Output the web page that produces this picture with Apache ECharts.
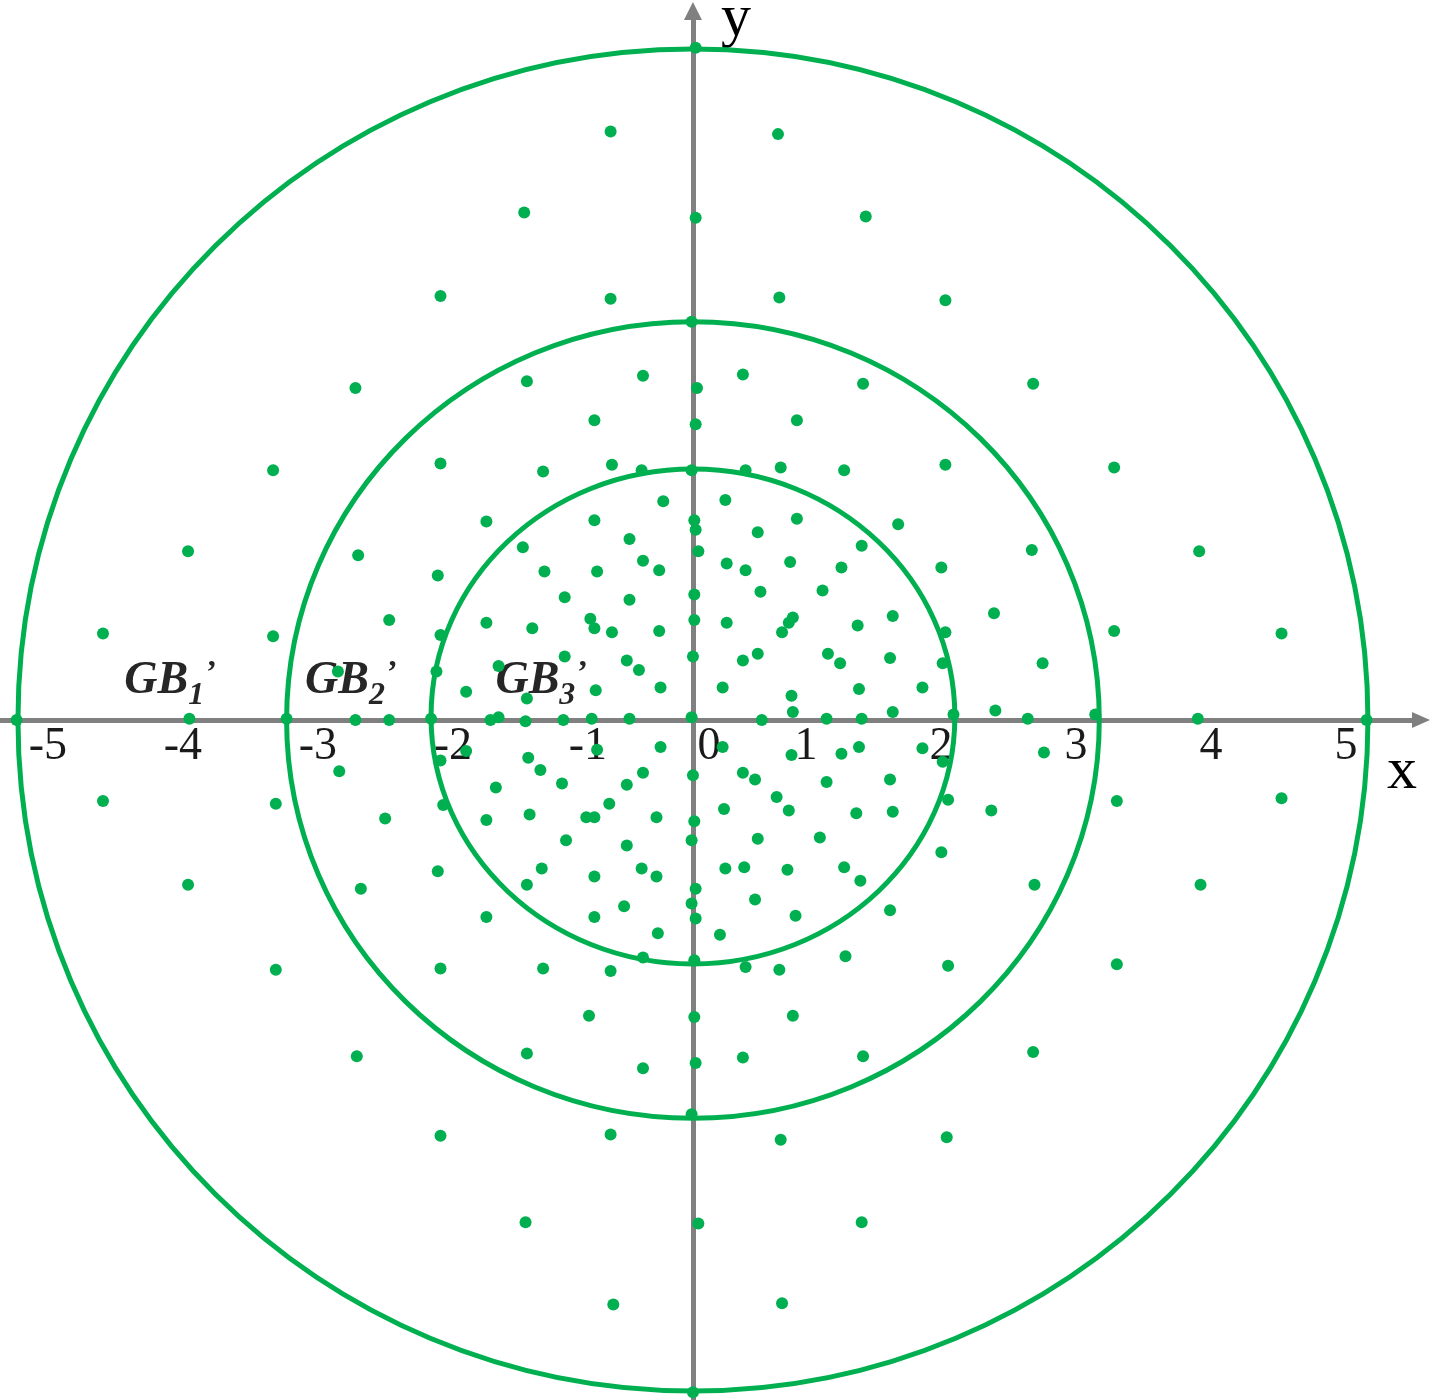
<!DOCTYPE html>
<html>
<head>
<meta charset="utf-8">
<script src="https://cdn.jsdelivr.net/npm/echarts@6.0.0/dist/echarts.min.js"></script>
<style>
  html, body { margin: 0; padding: 0; background: #fff; }
  #ringChart { width: 1433px; height: 1400px; }
</style>
</head>
<body>
<div id="ringChart"></div>
<script>
// x tick labels
const xTickValues = [-5, -4, -3, -2, -1, 0, 1, 2, 3, 4, 5];
const xTickLabels = ["-5", "-4", "-3", "-2", "-1", "0", "1", "2", "3", "4", "5"];

// boundary rings: [cx, cy, rx, ry]
const rings = [
  [0, 0, 5.0, 4.97],
  [0, 0, 3.01, 2.95],
  [0, 0.026, 1.94, 1.833],
];

// zone names and where they are written
const zoneNames = ["1", "2", "3"];
const zoneLabelPos = [
  [-3.87, 0.27],
  [-2.53, 0.27],
  [-1.12, 0.27],
];

// sampling points, GB1' zone (outside the middle ring)
const outerPoints = [
  [-0.61, 4.36], [0.63, 4.34], [-1.25, 3.76], [0.02, 3.72], [1.28, 3.73], [0.02, 4.98],
  [-1.87, 3.14], [-0.61, 3.12], [0.64, 3.13], [1.87, 3.11], [-0.01, 2.95],
  [-2.5, 2.46], [2.52, 2.49], [-3.11, 1.85], [3.12, 1.87], [-3.74, 1.25], [3.75, 1.25],
  [-4.37, 0.64], [-3.11, 0.62], [3.12, 0.66], [4.36, 0.64],
  [-5.01, 0], [-3.73, 0.01], [-3.01, 0.01], [2.98, 0.04], [3.74, 0.01], [4.99, 0],
  [-4.37, -0.6], [-3.09, -0.62], [3.14, -0.6], [4.36, -0.58],
  [-3.74, -1.22], [3.76, -1.22], [-3.09, -1.85], [3.14, -1.81],
  [-2.49, -2.49], [2.52, -2.46], [-1.87, -3.08], [-0.61, -3.07], [0.65, -3.11], [1.88, -3.09], [-0.01, -2.92],
  [-1.24, -3.72], [0.04, -3.73], [1.25, -3.72], [-0.59, -4.33], [0.66, -4.32], [0, -4.98],
];

// GB2' zone
const middlePoints = [
  [-1.23, 2.51], [-0.37, 2.55], [0.37, 2.56], [0.03, 2.46], [1.26, 2.49],
  [-0.73, 2.22], [0.02, 2.19], [0.77, 2.22],
  [-1.87, 1.9], [-1.11, 1.84], [-0.6, 1.89], [-0.38, 1.85], [-0.01, 1.85], [0.39, 1.85], [0.65, 1.87], [1.12, 1.85], [1.87, 1.89],
  [-1.53, 1.47], [-2.48, 1.22], [-1.89, 1.07], [-2.25, 0.74], [-1.53, 0.72], [-1.87, 0.63], [-1.9, 0.36], [-2.63, 0.36], [-1.68, 0.21],
  [-2.5, 0], [-2.25, 0], [-1.94, 0.01],
  [-1.68, -0.23], [-1.87, -0.3], [-2.62, -0.38], [-1.85, -0.63], [-2.28, -0.73], [-1.53, -0.74], [-1.89, -1.12], [-2.46, -1.25], [-1.53, -1.46],
  [2.51, 1.26], [2.23, 0.79], [2.59, 0.42], [2.24, 0.07], [2.48, 0.01], [2.6, -0.24], [2.21, -0.67], [2.53, -1.22],
  [1.52, 1.45], [1.84, 1.13], [1.87, 0.65], [1.85, 0.42], [1.93, 0.04], [1.85, -0.31], [1.89, -0.59], [1.84, -0.98],
  [-0.37, -1.76], [0.01, -1.78], [1.13, -1.75], [-1.11, -1.84], [-0.61, -1.86], [0.39, -1.83], [0.64, -1.85], [1.89, -1.82], [-1.87, -1.84],
  [-0.77, -2.19], [0.01, -2.2], [0.74, -2.19], [-1.23, -2.47], [-0.37, -2.58], [0.02, -2.54], [0.37, -2.5], [1.26, -2.49],
  [1.46, -1.41], [-0.73, -1.46], [0.02, -1.47], [0.76, -1.45], [-0.26, -1.58], [0.2, -1.59],
];

// GB3' zone
const innerPoints = [
  [-0.22, 1.62], [0.24, 1.63], [-0.73, 1.48], [0.01, 1.48], [0.02, 1.41], [0.77, 1.49],
  [-1.26, 1.28], [-0.47, 1.34], [0.48, 1.39], [1.25, 1.29], [0.04, 1.25],
  [-0.37, 1.18], [-0.25, 1.11], [-1.1, 1.1], [-0.71, 1.1], [0.25, 1.16], [0.39, 1.11], [0.72, 1.17], [1.1, 1.13],
  [0.01, 0.93], [0.5, 0.95], [0.96, 0.96], [-0.95, 0.91], [-0.47, 0.89],
  [-1.19, 0.68], [-0.76, 0.75], [-0.73, 0.68], [-0.6, 0.65], [-0.25, 0.66], [0.01, 0.74], [0.25, 0.72], [0.66, 0.65], [0.71, 0.72], [0.74, 0.76], [1.22, 0.7], [1.48, 0.77],
  [-0.95, 0.47], [-0.49, 0.44], [-0.4, 0.37], [-1.44, 0.4], [0, 0.47], [0.37, 0.44], [0.48, 0.49], [1.0, 0.49], [1.09, 0.42], [1.46, 0.46],
  [-0.72, 0.22], [-0.24, 0.24], [-1.23, 0.16], [0.22, 0.24], [0.73, 0.18], [1.23, 0.23], [1.7, 0.24],
  [-1.5, 0], [-1.44, 0.02], [-1.24, -0.01], [-0.96, 0], [-0.75, 0.01], [-0.47, 0.01], [-0.01, 0.02], [0.51, 0], [0.74, 0.06], [0.99, 0.01], [1.25, 0.01], [1.48, 0.06],
  [-0.71, -0.22], [-0.24, -0.2], [0.22, -0.2], [0.73, -0.26], [1.1, -0.25], [1.23, -0.2], [1.7, -0.21],
  [-1.22, -0.28], [-1.13, -0.37], [-0.37, -0.39], [0, -0.41], [0.37, -0.39], [0.46, -0.44],
  [-1.46, -0.5], [-0.97, -0.47], [-0.49, -0.48], [0.99, -0.46], [1.46, -0.44],
  [-0.62, -0.62], [0.62, -0.57], [0.71, -0.67],
  [-1.21, -0.7], [-0.79, -0.72], [-0.73, -0.72], [-0.27, -0.72], [0.01, -0.75], [0.23, -0.66], [1.21, -0.69], [1.48, -0.68],
  [-0.94, -0.89], [-0.49, -0.93], [-0.01, -0.89], [0.48, -0.88], [0.94, -0.87],
  [-1.12, -1.1], [-0.73, -1.16], [-0.38, -1.1], [-0.27, -1.16], [0.24, -1.1], [0.38, -1.09], [0.7, -1.11], [1.12, -1.09], [1.24, -1.19],
  [-1.23, -1.22], [0.02, -1.25], [-0.01, -1.36], [0.46, -1.33], [-0.51, -1.38],
];

const green = "#00B050";
const axisGray = "#808080";
const serif = "Liberation Serif";

const yMin = -5.037;
const yMax = 5.252;
const gridTop = 11;
const gridHeight = 1400 - gridTop;
// pull the x axis up from the grid bottom to y = 0
const xAxisOffset = -gridHeight * (0 - yMin) / (yMax - yMin);

let myChart = echarts.init(document.getElementById("ringChart"));

let option = {
  backgroundColor: "#fff",
  animation: false,
  grid: {
    left: 0,
    right: 12,
    top: gridTop,
    bottom: 0,
    containLabel: false,
    outerBoundsMode: "none",
  },
  xAxis: {
    type: "value",
    min: -5.133,
    max: 5.393,
    position: "bottom",
    offset: xAxisOffset,
    splitLine: { show: false },
    axisTick: { show: false },
    axisLine: {
      onZero: false,
      symbol: ["none", "triangle"],
      symbolSize: [16, 18],
      lineStyle: { color: axisGray, width: 5 },
    },
    axisLabel: {
      customValues: xTickValues,
      margin: 4,
      fontFamily: serif,
      fontSize: 46,
      color: "#1a1a1a",
      formatter: function (v) {
        const s = xTickLabels[xTickValues.indexOf(v)];
        if (v < 0) return "{neg|" + s + "}";
        if (v === 0) return "{zero|" + s + "}";
        return "{pos|" + s + "}";
      },
      rich: {
        neg: { fontFamily: serif, fontSize: 46, color: "#1a1a1a", padding: [0, 0, 0, 60] },
        zero: { fontFamily: serif, fontSize: 46, color: "#1a1a1a", padding: [0, 0, 0, 32] },
        pos: { fontFamily: serif, fontSize: 46, color: "#1a1a1a", padding: [0, 44, 0, 0] },
      },
    },
    name: "x",
    nameLocation: "end",
    nameGap: -4,
    nameMoveOverlap: false,
    nameTextStyle: {
      fontFamily: serif,
      fontSize: 60,
      color: "#000",
      align: "right",
      verticalAlign: "top",
      padding: [22, 0, 0, 0],
    },
  },
  yAxis: {
    type: "value",
    min: yMin,
    max: yMax,
    splitLine: { show: false },
    axisTick: { show: false },
    axisLabel: { show: false },
    axisLine: {
      onZero: true,
      symbol: ["none", "triangle"],
      symbolSize: [18, 18],
      lineStyle: { color: axisGray, width: 5 },
    },
    name: "y",
    nameLocation: "end",
    nameGap: -8,
    nameMoveOverlap: false,
    nameTextStyle: {
      fontFamily: serif,
      fontSize: 60,
      color: "#000",
      align: "left",
      verticalAlign: "middle",
      padding: [0, 0, 0, 28],
    },
  },
  series: [
    {
      // the three boundary rings
      type: "custom",
      data: rings,
      z: 2,
      renderItem: function (params, api) {
        const c = api.coord([api.value(0), api.value(1)]);
        const s = api.size([api.value(2), api.value(3)]);
        return {
          type: "ellipse",
          shape: { cx: c[0], cy: c[1], rx: s[0], ry: s[1] },
          style: { fill: "none", stroke: green, lineWidth: 5 },
        };
      },
    },
    {
      // zone names GB1' GB2' GB3'
      type: "scatter",
      symbolSize: 0,
      z: 2,
      itemStyle: { opacity: 1 },
      data: zoneLabelPos.map((p, i) => ({ value: p, name: zoneNames[i] })),
      label: {
        show: true,
        position: "inside",
        color: "#262626",
        textBorderWidth: 0,
        formatter: function (p) {
          return "{gb|GB}{sub|" + p.name + "}{sup|\u2019}";
        },
        rich: {
          gb: {
            fontFamily: serif, fontWeight: "bold", fontStyle: "italic",
            fontSize: 46, color: "#262626", verticalAlign: "top", padding: [3, 0, 0, 0],
          },
          sub: {
            fontFamily: serif, fontWeight: "bold", fontStyle: "italic",
            fontSize: 32, color: "#262626", verticalAlign: "top", padding: [25, 0, 0, 0],
          },
          sup: {
            fontFamily: serif, fontWeight: "bold",
            fontSize: 32, color: "#262626", verticalAlign: "top", padding: [3, 0, 0, 2],
          },
        },
      },
    },
    {
      type: "scatter",
      name: "GB1'",
      data: outerPoints,
      symbolSize: 12,
      z: 3,
      itemStyle: { color: green, opacity: 1 },
    },
    {
      type: "scatter",
      name: "GB2'",
      data: middlePoints,
      symbolSize: 12,
      z: 3,
      itemStyle: { color: green, opacity: 1 },
    },
    {
      type: "scatter",
      name: "GB3'",
      data: innerPoints,
      symbolSize: 12,
      z: 3,
      itemStyle: { color: green, opacity: 1 },
    },
  ],
};

myChart.setOption(option);
</script>
</body>
</html>
